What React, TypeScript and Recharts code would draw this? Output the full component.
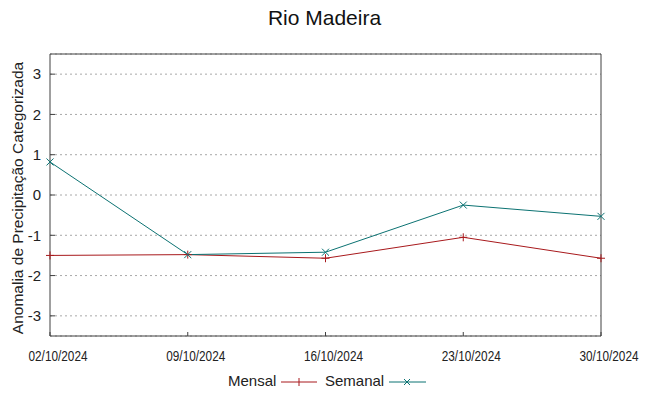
import { CartesianGrid, Line, LineChart, XAxis, YAxis } from "recharts";

const dates = ["02/10/2024", "09/10/2024", "16/10/2024", "23/10/2024", "30/10/2024"];
const mensal = [-1.5, -1.48, -1.57, -1.05, -1.57];
const semanal = [0.82, -1.48, -1.42, -0.25, -0.53];
const yTicks = [-3, -2, -1, 0, 1, 2, 3];

const RED = "#a8191c";
const TEAL = "#0b7272";
const AXIS = "#404040";
const FONT = "'Liberation Sans', Arial, sans-serif";

const data = dates.map((d, i) => ({ date: d, mensal: mensal[i], semanal: semanal[i] }));

const PlusDot = (props: any) => {
  const { cx, cy } = props;
  if (cx == null || cy == null) return null;
  return (
    <g stroke={RED} strokeWidth={1}>
      <line x1={cx - 4} y1={cy} x2={cx + 4} y2={cy} />
      <line x1={cx} y1={cy - 4} x2={cx} y2={cy + 4} />
    </g>
  );
};

const CrossDot = (props: any) => {
  const { cx, cy } = props;
  if (cx == null || cy == null) return null;
  return (
    <g stroke={TEAL} strokeWidth={1}>
      <line x1={cx - 3.5} y1={cy - 3.5} x2={cx + 3.5} y2={cy + 3.5} />
      <line x1={cx - 3.5} y1={cy + 3.5} x2={cx + 3.5} y2={cy - 3.5} />
    </g>
  );
};

const DateTick = (props: any) => {
  const { x, y, payload } = props;
  return (
    <text
      x={x + 8}
      y={y + 27}
      textAnchor="middle"
      fontFamily={FONT}
      fontSize={14}
      textLength={59}
      lengthAdjust="spacingAndGlyphs"
      fill="#222"
    >
      {payload.value}
    </text>
  );
};

export default function App() {
  return (
    <div style={{ position: "absolute", left: 0, top: 0, width: 649, height: 396, background: "#fff", fontFamily: FONT }}>
      <div style={{ position: "absolute", left: 0, top: 6, width: 649, textAlign: "center", fontSize: 21, color: "#111" }}>
        Rio Madeira
      </div>
      <div
        style={{
          position: "absolute",
          left: 18,
          top: 198,
          transform: "translate(-50%, -50%) rotate(-90deg)",
          whiteSpace: "nowrap",
          fontSize: 15.5,
          color: "#222",
        }}
      >
        Anomalia de Precipitação Categorizada
      </div>
      <LineChart
        width={649}
        height={396}
        data={data}
        margin={{ top: 53, right: 47, left: 0, bottom: 0 }}
        style={{ position: "absolute", left: 0, top: 0 }}
      >
        <CartesianGrid vertical={false} stroke="#a8a8a8" strokeDasharray="2 3" yAxisId="left" />
        <XAxis
          dataKey="date"
          xAxisId="top"
          orientation="top"
          height={1}
          stroke={AXIS}
          tickLine={false}
          tick={false}
          interval={0}
        />
        <XAxis
          dataKey="date"
          height={60}
          stroke={AXIS}
          tickSize={-4}
          tick={<DateTick />}
          interval={0}
        />
        <YAxis
          yAxisId="left"
          width={50}
          domain={[-3.5, 3.5]}
          ticks={yTicks}
          stroke={AXIS}
          tickSize={-5}
          tickMargin={14}
          tick={{ fill: "#222", fontSize: 15, fontFamily: FONT }}
        />
        <YAxis
          yAxisId="right"
          orientation="right"
          width={1}
          domain={[-3.5, 3.5]}
          ticks={yTicks}
          stroke={AXIS}
          tickSize={-4}
          tick={false}
        />
        <Line
          yAxisId="left"
          dataKey="mensal"
          stroke={RED}
          strokeWidth={1}
          dot={<PlusDot />}
          activeDot={false}
          isAnimationActive={false}
        />
        <Line
          yAxisId="left"
          dataKey="semanal"
          stroke={TEAL}
          strokeWidth={1}
          dot={<CrossDot />}
          activeDot={false}
          isAnimationActive={false}
        />
      </LineChart>
      <div style={{ position: "absolute", left: 228, top: 372, fontSize: 15, color: "#222", lineHeight: "18px" }}>Mensal</div>
      <div style={{ position: "absolute", left: 325, top: 372, fontSize: 15, color: "#222", lineHeight: "18px" }}>Semanal</div>
      <svg width={649} height={396} style={{ position: "absolute", left: 0, top: 0, pointerEvents: "none" }}>
        <line x1={281} y1={382} x2={317} y2={382} stroke={RED} />
        <line x1={299} y1={378} x2={299} y2={386} stroke={RED} />
        <line x1={389} y1={382} x2={426} y2={382} stroke={TEAL} />
        <line x1={404} y1={379} x2={410} y2={385} stroke={TEAL} />
        <line x1={404} y1={385} x2={410} y2={379} stroke={TEAL} />
      </svg>
    </div>
  );
}
